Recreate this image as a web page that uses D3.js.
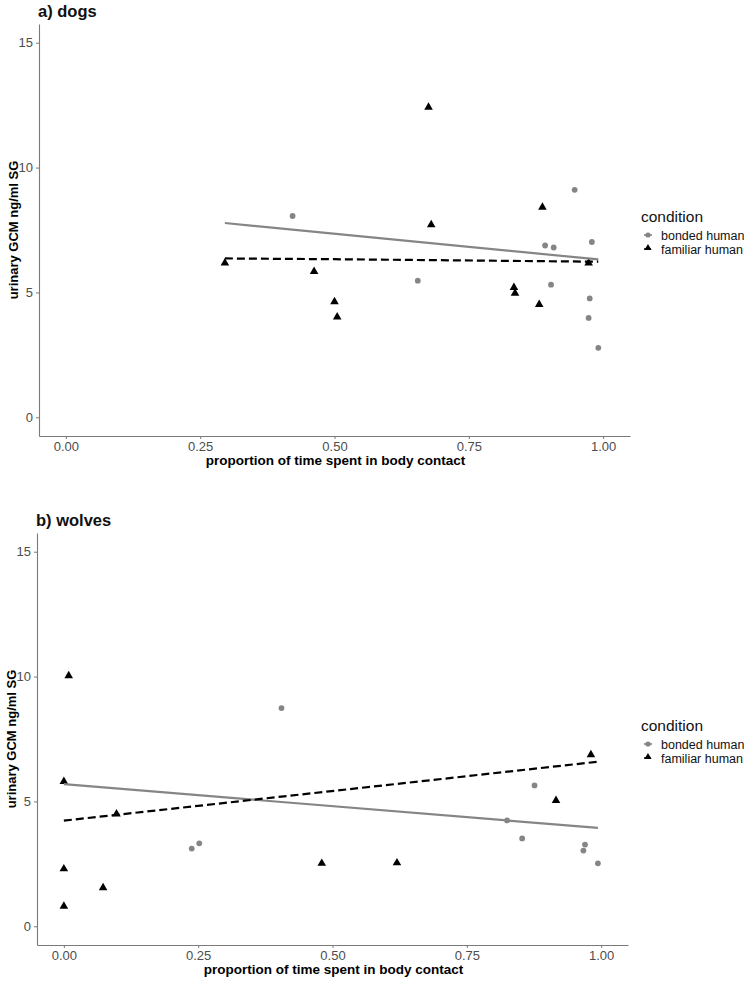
<!DOCTYPE html>
<html>
<head>
<meta charset="utf-8">
<script src="https://cdn.jsdelivr.net/npm/d3@7"></script>
<style>
  body { margin: 0; background: #fff; }
  svg { font-family: "Liberation Sans", Arial, sans-serif; }
</style>
</head>
<body>
<div id="chart"></div>
<script>
// values
var xTicks = [0, 0.25, 0.5, 0.75, 1];
var yTicks = [0, 5, 10, 15];
var conditions = ["bonded human", "familiar human"];

// a) dogs
var dogsBondedX = [0.422, 0.655, 0.892, 0.908, 0.903, 0.947, 0.979, 0.975, 0.973, 0.991];
var dogsBondedY = [8.06, 5.47, 6.88, 6.80, 5.31, 9.11, 7.02, 4.76, 3.98, 2.78];
var dogsFamiliarX = [0.296, 0.462, 0.500, 0.505, 0.675, 0.680, 0.834, 0.836, 0.881, 0.887, 0.973];
var dogsFamiliarY = [6.18, 5.84, 4.63, 4.02, 12.42, 7.71, 5.20, 4.97, 4.52, 8.41, 6.18];
var dogsBondedFitX = [0.296, 0.991];
var dogsBondedFitY = [7.78, 6.32];
var dogsFamiliarFitX = [0.296, 0.50, 0.991];
var dogsFamiliarFitY = [6.36, 6.33, 6.23];

// b) wolves
var wolvesBondedX = [0.405, 0.238, 0.252, 0.825, 0.876, 0.853, 0.970, 0.967, 0.994];
var wolvesBondedY = [8.74, 3.11, 3.32, 4.24, 5.64, 3.52, 3.27, 3.03, 2.52];
var wolvesFamiliarX = [0.009, 0.0, 0.098, 0.480, 0.0, 0.073, 0.0, 0.620, 0.916, 0.981];
var wolvesFamiliarY = [10.03, 5.80, 4.50, 2.52, 2.30, 1.54, 0.80, 2.54, 5.04, 6.87];
var wolvesBondedFitX = [0.0, 0.994];
var wolvesBondedFitY = [5.69, 3.94];
var wolvesFamiliarFitX = [0.0, 0.994];
var wolvesFamiliarFitY = [4.23, 6.59];

var grey = "#858585";

var svg = d3.select("#chart").append("svg")
    .attr("width", 751)
    .attr("height", 983);

function zip(xs, ys) {
    return xs.map(function(x, i) { return [x, ys[i]]; });
}

function panel(title, left, top, bondedX, bondedY, famX, famY, bfX, bfY, ffX, ffY) {
    var right = left + 591, bottom = top + 412;
    var x = d3.scaleLinear().domain([-0.05, 1.05]).range([left, right]);
    var y = d3.scaleLinear().domain([-0.75, 15.75]).range([bottom, top]);

    svg.append("text")
        .attr("x", left - 1).attr("y", top - 7)
        .style("font-size", "16.5px").style("font-weight", "bold")
        .attr("fill", "#111")
        .text(title);

    var xa = svg.append("g").attr("transform", "translate(0," + bottom + ")")
        .call(d3.axisBottom(x).tickValues(xTicks).tickFormat(d3.format(".2f")).tickSize(3).tickSizeOuter(0).tickPadding(3));
    var ya = svg.append("g").attr("transform", "translate(" + left + ",0)")
        .call(d3.axisLeft(y).tickValues(yTicks).tickFormat(d3.format("d")).tickSize(3).tickSizeOuter(0).tickPadding(3));
    [xa, ya].forEach(function(a) {
        a.select(".domain").attr("stroke", "#7a7a7a").attr("stroke-width", 1.1);
        a.selectAll(".tick line").attr("stroke", "#7a7a7a");
        a.selectAll(".tick text").attr("fill", "#4d4d4d").style("font-size", "13px").attr("font-family", null);
    });

    svg.append("text")
        .attr("x", (left + right) / 2 + 1).attr("y", bottom + 29)
        .attr("text-anchor", "middle")
        .style("font-size", "13.5px").style("font-weight", "bold")
        .text("proportion of time spent in body contact");
    svg.append("text")
        .attr("transform", "translate(" + (left - 21) + "," + ((top + bottom) / 2) + ") rotate(-90)")
        .attr("text-anchor", "middle")
        .style("font-size", "13px").style("font-weight", "bold")
        .text("urinary GCM ng/ml SG");

    var line = d3.line().x(function(d) { return x(d[0]); }).y(function(d) { return y(d[1]); });

    svg.append("g").selectAll("circle").data(zip(bondedX, bondedY)).join("circle")
        .attr("cx", function(d) { return x(d[0]); })
        .attr("cy", function(d) { return y(d[1]); })
        .attr("r", 2.9).attr("fill", grey);
    svg.append("g").selectAll("path").data(zip(famX, famY)).join("path")
        .attr("d", d3.symbol(d3.symbolTriangle, 32))
        .attr("transform", function(d) { return "translate(" + x(d[0]) + "," + y(d[1]) + ")"; })
        .attr("fill", "#000");

    svg.append("path").datum(zip(bfX, bfY))
        .attr("d", line).attr("fill", "none")
        .attr("stroke", grey).attr("stroke-width", 2.2);
    svg.append("path").datum(zip(ffX, ffY))
        .attr("d", line).attr("fill", "none")
        .attr("stroke", "#000").attr("stroke-width", 2.2)
        .attr("stroke-dasharray", "8,4");

    // legend
    var ly = (top + bottom) / 2;
    var lg = svg.append("g").attr("transform", "translate(641," + ly + ")");
    lg.append("text").attr("x", 0).attr("y", -8)
        .style("font-size", "15.5px").attr("fill", "#111").text("condition");
    conditions.forEach(function(c, i) {
        var cy = 5 + i * 14;
        var col = i === 0 ? grey : "#000";
        lg.append("line").attr("x1", 3).attr("x2", 11).attr("y1", cy).attr("y2", cy)
            .attr("stroke", col).attr("stroke-width", 1.6)
            .attr("stroke-dasharray", i === 0 ? null : "3,1");
        if (i === 0) {
            lg.append("circle").attr("cx", 7).attr("cy", cy).attr("r", 2.6).attr("fill", col);
        } else {
            lg.append("path").attr("d", d3.symbol(d3.symbolTriangle, 22))
                .attr("transform", "translate(7," + (cy - 1) + ")").attr("fill", col);
        }
        lg.append("text").attr("x", 20).attr("y", cy + 4.5)
            .style("font-size", "12.5px").attr("fill", "#111").text(c);
    });
}

panel("a) dogs", 39, 24, dogsBondedX, dogsBondedY, dogsFamiliarX, dogsFamiliarY,
    dogsBondedFitX, dogsBondedFitY, dogsFamiliarFitX, dogsFamiliarFitY);
panel("b) wolves", 37, 533, wolvesBondedX, wolvesBondedY, wolvesFamiliarX, wolvesFamiliarY,
    wolvesBondedFitX, wolvesBondedFitY, wolvesFamiliarFitX, wolvesFamiliarFitY);
</script>
</body>
</html>
